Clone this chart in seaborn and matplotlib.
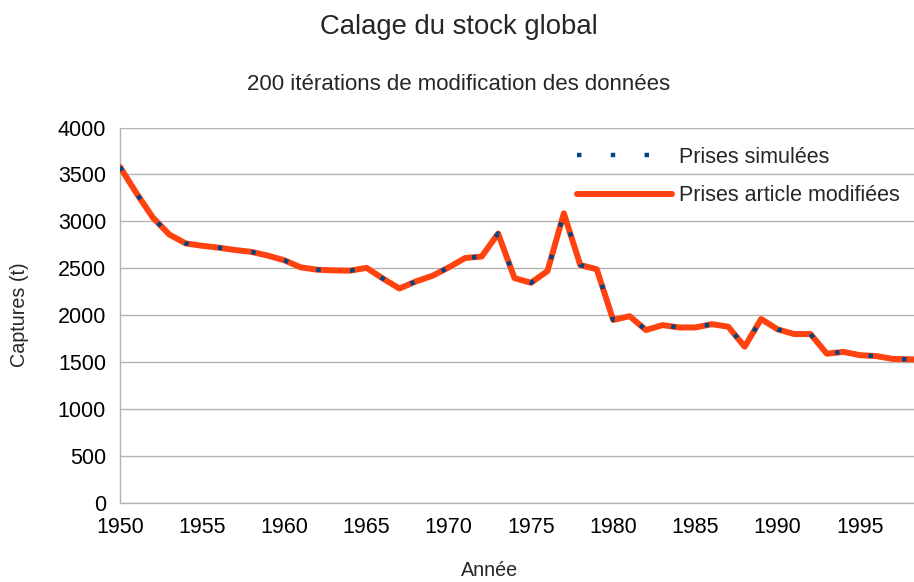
import matplotlib
matplotlib.use("Agg")
import matplotlib.pyplot as plt
import seaborn as sns
import pandas as pd

years = list(range(1950, 2000))
prises_article = [3580, 3300, 3040, 2860, 2765, 2740, 2720, 2695, 2675, 2635,
                  2585, 2510, 2485, 2478, 2475, 2505, 2390, 2285, 2360, 2420,
                  2510, 2610, 2625, 2870, 2395, 2346, 2470, 3085, 2535, 2490,
                  1950, 1990, 1842, 1895, 1870, 1870, 1905, 1878, 1665, 1960,
                  1850, 1800, 1800, 1590, 1610, 1575, 1565, 1535, 1530, 1530]
prises_simulees = list(prises_article)

x_ticks = list(range(1950, 2000, 5))
y_ticks = list(range(0, 4001, 500))

title = "Calage du stock global"
subtitle = "200 itérations de modification des données"
xlabel = "Année"
ylabel = "Captures (t)"
label_sim = "Prises simulées"
label_art = "Prises article modifiées"

sns.set_style("white")
plt.rcParams['font.family'] = ['Liberation Sans', 'DejaVu Sans']

df = pd.DataFrame({"annee": years, "sim": prises_simulees, "art": prises_article})

fig = plt.figure(figsize=(9.14, 5.82), dpi=100)
ax = fig.add_axes([120/914, 1-503/582, 1-120/914, (503-127.5)/582])

grid_c = "#b3b3b3"
dash = [1, 6.6]
sns.lineplot(data=df, x="annee", y="art", ax=ax, color="#ff420e", linewidth=4.3,
             label=label_art, zorder=3)
sns.lineplot(data=df, x="annee", y="sim", ax=ax, color="#004586", linewidth=3.2,
             label=label_sim, zorder=4)
sim_line = ax.get_lines()[-1]
sim_line.set_dashes(dash)
sim_line.set_dash_capstyle("butt")

ax.set_xlim(1950, 1998.3)
ax.set_ylim(0, 4000)
ax.set_xticks(x_ticks)
ax.set_yticks(y_ticks)
ax.tick_params(axis="both", labelsize=15.5, colors=grid_c, labelcolor="black",
               length=6, width=1, direction="out", pad=4)
ax.grid(axis="y", color=grid_c, linewidth=1)
ax.grid(axis="x", visible=False)
for s in ["top", "right"]:
    ax.spines[s].set_visible(False)
for s in ["left", "bottom"]:
    ax.spines[s].set_color(grid_c)
    ax.spines[s].set_linewidth(1)
ax.set_xlabel("")
ax.set_ylabel("")
ax.set_axisbelow(True)

fig.text(459/914, 1-27/582, title, ha="center", va="center", fontsize=19.8)
fig.text(459/914, 1-85/582, subtitle, ha="center", va="center", fontsize=16)
fig.text(490/914, 1-571/582, xlabel, ha="center", va="center", fontsize=14.2)
fig.text(20/914, 1-315/582, ylabel, ha="center", va="center", fontsize=14.2,
         rotation=90)

handles, labels = ax.get_legend_handles_labels()
order = [labels.index(label_sim), labels.index(label_art)]
leg = ax.legend([handles[i] for i in order], [labels[i] for i in order],
                loc="upper left", bbox_to_anchor=(577/914, 1-147/582),
                bbox_transform=fig.transFigure, frameon=False, fontsize=15.5,
                handlelength=4.4, handletextpad=0.33, borderpad=0,
                borderaxespad=0, labelspacing=0.8)
lh = leg.get_lines()
lh[0].set_dashes(dash)
lh[0].set_dash_capstyle("butt")

fig.savefig("out.png", dpi=100)
